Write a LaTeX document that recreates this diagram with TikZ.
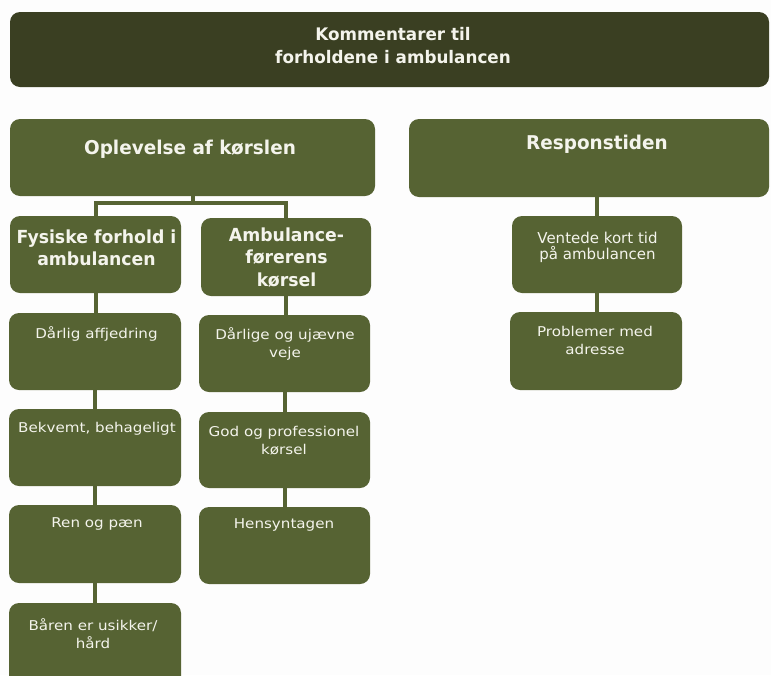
\documentclass[tikz,border=0pt]{standalone}
\usepackage{fontspec}
\setmainfont{DejaVu Sans}
\newfontfamily\headfont[FakeStretch=0.97]{DejaVu Sans}
\newfontfamily\fysfont[FakeStretch=0.96]{DejaVu Sans}
\newfontfamily\subfont[FakeStretch=1.0]{DejaVu Sans}
\newfontfamily\widefont[FakeStretch=1.12]{DejaVu Sans}
\definecolor{darkolive}{HTML}{3A3F22}
\definecolor{olive}{HTML}{566333}
\definecolor{boxtext}{HTML}{F4F4EC}
\definecolor{bgcol}{HTML}{FDFDFD}
\tikzset{
  box/.style={draw=none, fill=olive, rounded corners=10pt, inner sep=0pt, minimum width=171pt, minimum height=77pt},
  topbox/.style={box, fill=darkolive},
  conn/.style={draw=olive, line width=4pt},
  head/.style={text=boxtext, align=center, font=\headfont\bfseries\fontsize{19}{22.5}\selectfont, inner sep=0pt, anchor=north},
  sub/.style={text=boxtext, align=center, font=\subfont\fontsize{15}{16}\selectfont, inner sep=0pt, anchor=north},
  small/.style={text=boxtext, align=center, font=\widefont\fontsize{13.5}{18.5}\selectfont, inner sep=0pt, anchor=north}
}
\begin{document}
\begin{tikzpicture}[x=1pt,y=-1pt]
\useasboundingbox (0,0) rectangle (771,675);
\fill[bgcol] (0,0) rectangle (771,675);
% boxes
\node[topbox, minimum width=759pt, minimum height=75pt] (top) at (389.5,49.5) {};
\node[box, minimum width=365pt] (oplev) at (192.5,157.5) {};
\node[box, minimum width=360pt, minimum height=78pt] (resp) at (589,158) {};
\node[box] (fys) at (95.5,254.5) {};
\node[box, minimum width=170pt, minimum height=78pt] (amb) at (286,257) {};
\node[box, minimum width=170pt] (vent) at (597,254.5) {};
\node[box, minimum width=172pt] (dar) at (95,351.5) {};
\node[box, minimum width=172pt] (bek) at (95,447.5) {};
\node[box, minimum width=172pt, minimum height=78pt] (ren) at (95,544) {};
\node[box, minimum width=172pt, minimum height=87pt] (bar) at (95,646.5) {};
\node[box] (dlg) at (284.5,353.5) {};
\node[box, minimum height=76pt] (god) at (284.5,450) {};
\node[box] (hens) at (284.5,545.5) {};
\node[box, minimum width=172pt, minimum height=78pt] (prob) at (596,351) {};
% connectors
\draw[conn] (oplev.south) -- ++(0,7) -| (fys.north);
\draw[conn] (oplev.south) -- ++(0,7) -| (amb.north);
\draw[conn] (vent.north |- resp.south) -- (vent.north);
\draw[conn] (fys.south) -- (fys.south |- dar.north);
\draw[conn] (dar.south) -- (bek.north);
\draw[conn] (bek.south) -- (ren.north);
\draw[conn] (ren.south) -- (bar.north);
\draw[conn] (amb.south) -- (amb.south |- dlg.north);
\draw[conn] (dlg.south) -- (god.north);
\draw[conn] (god.south) -- (hens.north);
\draw[conn] (vent.south) -- (vent.south |- prob.north);
% texts
\node[head, font=\headfont\bfseries\fontsize{17.3}{23}\selectfont] (ttop) at (393,27.5) {Kommentarer til\\forholdene i ambulancen};
\node[head] (toplev) at (190,140) {Oplevelse af kørslen};
\node[head] (tresp) at (597,135) {Responstiden};
\node[head, font=\fysfont\bfseries\fontsize{18}{22}\selectfont] (tfys) at (96.5,229.5) {Fysiske forhold i\\ambulancen};
\node[head, font=\fysfont\bfseries\fontsize{18}{22.5}\selectfont] (tamb) at (286.5,227.5) {Ambulance-\\førerens\\kørsel};
\node[sub] (tvent) at (597.5,231.5) {Ventede kort tid\\på ambulancen};
\node[small] (tdar) at (96.5,326) {Dårlig affjedring};
\node[small] (tbek) at (97,422.5) {Bekvemt, behageligt};
\node[small] (tren) at (97,517.5) {Ren og pæn};
\node[small] (tbar) at (93,618) {Båren er usikker/\\hård};
\node[small] (tdlg) at (285,327) {Dårlige og ujævne\\veje};
\node[small] (tgod) at (284,426) {God og professionel\\kørsel};
\node[small] (thens) at (284,518.5) {Hensyntagen};
\node[small] (tprob) at (595,326) {Problemer med\\adresse};
\end{tikzpicture}
\end{document}
